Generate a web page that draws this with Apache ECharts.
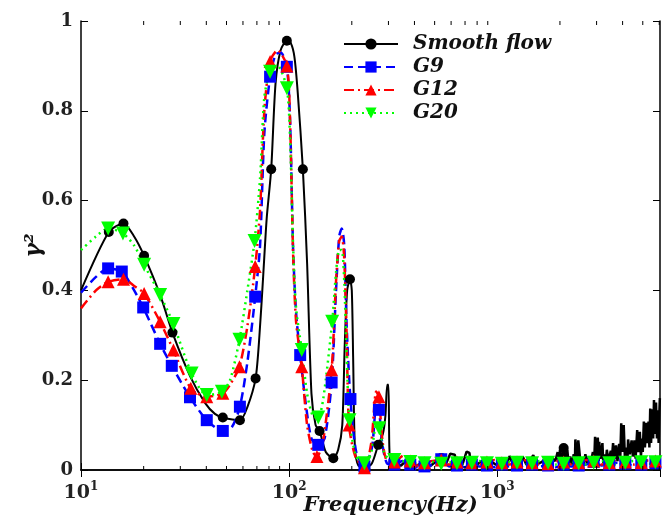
<!DOCTYPE html>
<html><head><meta charset="utf-8">
<script src="https://cdn.jsdelivr.net/npm/echarts@6/dist/echarts.min.js"></script>
<style>html,body{margin:0;padding:0;background:#fff}#c{width:670px;height:518px}</style>
</head><body><div id="c"></div>
<script>
// ---------- data (frequency Hz, gamma^2, marker flag) ----------
const seriesNames = ['Smooth flow', 'G9', 'G12', 'G20'];
const xMin = 10, xMax = 6050;
const yTicks = [0, 0.2, 0.4, 0.6, 0.8, 1];
const minorTickValues = [20,30,40,50,60,70,80,90,200,300,400,500,600,700,800,900,2000,3000,4000,5000,6000];

const smoothFlow = [
  [10,0.40,0],[13.6,0.53,1],[16,0.549,1],[18,0.52,0],[20.1,0.477,1],[24,0.39,0],[27.5,0.306,1],
  [33.5,0.208,0],[39.5,0.149,0],[44,0.125,0],[48,0.117,1],[58,0.111,1],[63,0.14,0],[69,0.204,1],
  [72,0.30,0],[75,0.43,0],[78,0.56,0],[82,0.67,1],[86,0.86,0],[91,0.935,0],[97.5,0.956,1],
  [102,0.95,0],[106,0.92,0],[110,0.84,0],[116.4,0.67,1],[122,0.46,0],[128,0.17,0],[134,0.10,0],
  [140,0.087,1],[150,0.04,0],[163,0.026,1],[172,0.045,0],[180,0.10,0],[185,0.28,0],[190,0.40,0],
  [196,0.425,1],[200,0.40,0],[203,0.25,0],[207,0.05,0],[215,0.01,0],[232,0.004,1],[250,0.015,0],
  [268,0.056,1],[282,0.08,0],[290,0.12,0],[296,0.19,0],[300,0.19,0],[303,0.05,0],[308,0.012,0],[317,0.012,0]
];
const smoothFlowNoise = [
  [317,0.012,0],[345,0.01,0],[360,0.018,0],[382,0.012,0],[410,0.01,0],[430,0.015,0],[447,0.012,0],
  [480,0.01,0],[510,0.02,0],[538,0.027,1],[565,0.012,0],[594,0.036,0],[625,0.034,0],[632,0.012,0],
  [680,0.012,0],[712,0.041,0],[735,0.038,0],[745,0.015,0],[800,0.012,0],[840,0.02,0],[870,0.012,0],
  [930,0.02,0],[980,0.012,0],[1110,0.012,0],[1145,0.031,0],[1170,0.03,0],[1190,0.012,0],[1300,0.014,0],
  [1325,0.03,0],[1350,0.028,0],[1380,0.012,0],[1490,0.033,0],[1515,0.03,0],[1540,0.012,0],[1640,0.018,0],
  [1700,0.026,0],[1740,0.02,0],[1800,0.012,0],[1850,0.025,0],[1900,0.02,0],[1950,0.04,0],[1980,0.015,0],
  [2000,0.045,0],[2030,0.02,0],[2084,0.049,1],[2130,0.02,0],[2170,0.045,0],[2200,0.015,0],[2240,0.03,0],
  [2280,0.012,0],[2330,0.035,0],[2360,0.015,0],[2372,0.068,0],[2420,0.02,0],[2450,0.066,0],[2480,0.066,0],
  [2507,0.02,0],[2550,0.028,0],[2600,0.012,0],[2650,0.035,0],[2700,0.015,0],[2760,0.03,0],[2800,0.012,0],
  [2880,0.04,0],[2920,0.015,0],[2950,0.074,0],[2990,0.02,0],[3040,0.072,0],[3070,0.02,0],[3090,0.063,0],
  [3130,0.025,0],[3200,0.06,0],[3230,0.015,0],[3280,0.035,0],[3320,0.015,0],[3360,0.045,0],[3420,0.02,0],
  [3510,0.043,0],[3540,0.015,0],[3600,0.06,0],[3660,0.025,0],[3720,0.055,0],[3780,0.02,0],[3850,0.058,0],
  [3900,0.03,0],[3940,0.104,0],[3990,0.04,0],[4050,0.10,0],[4100,0.03,0],[4180,0.05,0],[4220,0.02,0],
  [4250,0.068,0],[4330,0.035,0],[4420,0.066,0],[4480,0.03,0],[4560,0.066,0],[4620,0.025,0],[4700,0.089,0],
  [4760,0.04,0],[4840,0.085,0],[4900,0.03,0],[4960,0.07,0],[5000,0.04,0],[5060,0.108,0],[5120,0.05,0],
  [5200,0.105,0],[5260,0.06,0],[5330,0.108,0],[5380,0.05,0],[5430,0.137,0],[5480,0.06,0],[5560,0.135,0],
  [5610,0.07,0],[5660,0.156,0],[5720,0.08,0],[5790,0.15,0],[5850,0.07,0],[5900,0.133,0],[5960,0.06,0],
  [6010,0.13,0],[6040,0.16,0]
];
const g9 = [
  [10,0.395,0],[11.8,0.43,0],[13.5,0.449,1],[15.7,0.442,1],[17.5,0.41,0],[19.9,0.362,1],[24,0.281,1],
  [27.3,0.232,1],[33.4,0.162,1],[40.2,0.111,1],[48,0.087,1],[53,0.095,0],[58,0.141,1],[63,0.24,0],
  [68.7,0.386,1],[72.5,0.50,0],[76,0.75,0],[81,0.876,1],[86,0.925,0],[91,0.93,0],[97.5,0.898,1],
  [101,0.78,0],[104.5,0.49,0],[108,0.35,0],[113,0.256,1],[120,0.15,0],[128,0.07,0],[138,0.056,1],
  [148,0.07,0],[160,0.195,1],[168,0.40,0],[174,0.52,0],[179,0.538,0],[184,0.50,0],[189,0.32,0],
  [197,0.158,1],[210,0.04,0],[230,0.008,1],[250,0.05,0],[262,0.14,0],[270,0.134,1],[280,0.06,0],
  [295,0.015,0],[320,0.012,1],[350,0.02,0],[382,0.012,1],[414,0.006,0],[447,0.008,1],[490,0.012,0],
  [538,0.024,1],[587,0.008,0],[640,0.01,1],[695,0.006,0],[755,0.012,1],[820,0.008,0],[892,0.01,1],
  [968,0.006,0],[1052,0.012,1],[1143,0.008,0],[1244,0.01,1],[1351,0.006,0],[1469,0.012,1],[1605,0.008,0],
  [1754,0.01,1],[1912,0.006,0],[2084,0.012,1],[2265,0.008,0],[2461,0.01,1],[2674,0.012,0],[2905,0.018,1],
  [3167,0.01,0],[3453,0.012,1],[3773,0.016,0],[4122,0.014,1],[4503,0.01,0],[4920,0.012,1],[5350,0.014,0],
  [5750,0.015,1],[6050,0.012,0]
];
const g12 = [
  [10,0.36,0],[11.8,0.40,0],[13.5,0.419,1],[16,0.425,1],[18,0.41,0],[20.1,0.393,1],[24,0.330,1],
  [27.8,0.267,1],[33.7,0.182,1],[40.2,0.163,1],[48,0.171,1],[52,0.19,0],[57.7,0.23,1],[63,0.32,0],
  [68.7,0.453,1],[72.5,0.58,0],[76,0.80,0],[81,0.91,1],[88,0.935,0],[97.5,0.90,1],[101,0.78,0],
  [104.5,0.48,0],[108,0.33,0],[115,0.23,1],[122,0.10,0],[130,0.04,0],[136,0.03,1],[145,0.06,0],
  [160,0.223,1],[168,0.42,0],[174,0.51,0],[179,0.52,0],[184,0.47,0],[189,0.30,0],[194,0.10,1],
  [208,0.03,0],[230,0.005,1],[248,0.06,0],[262,0.175,0],[270,0.163,1],[280,0.07,0],[295,0.02,0],
  [320,0.018,1],[355,0.032,0],[382,0.02,1],[414,0.01,0],[447,0.016,1],[490,0.02,0],[538,0.022,1],
  [587,0.012,0],[640,0.018,1],[695,0.022,0],[755,0.016,1],[820,0.012,0],[892,0.018,1],[968,0.022,0],
  [1052,0.016,1],[1143,0.012,0],[1244,0.018,1],[1351,0.022,0],[1469,0.016,1],[1605,0.012,0],[1754,0.014,1],
  [1912,0.02,0],[2084,0.018,1],[2265,0.012,0],[2461,0.016,1],[2674,0.022,0],[2905,0.02,1],[3167,0.012,0],
  [3453,0.016,1],[3773,0.022,0],[4122,0.018,1],[4503,0.012,0],[4920,0.016,1],[5350,0.022,0],[5750,0.02,1],
  [6050,0.018,0]
];
const g20 = [
  [10,0.49,0],[11.8,0.52,0],[13.5,0.538,1],[15.9,0.527,1],[18,0.50,0],[20.1,0.457,1],[24,0.390,1],
  [27.8,0.325,1],[34,0.215,1],[40.2,0.167,1],[47.5,0.174,1],[52,0.20,0],[57.7,0.29,1],[63,0.40,0],
  [68.2,0.51,1],[72.5,0.65,0],[76,0.83,0],[81,0.887,1],[88,0.90,0],[97.5,0.85,1],[101,0.74,0],
  [104.5,0.50,0],[108,0.36,0],[115,0.267,1],[122,0.17,0],[130,0.12,0],[138,0.117,1],[146,0.16,0],
  [161,0.33,1],[168,0.44,0],[174,0.49,0],[179,0.49,0],[184,0.42,0],[189,0.25,0],[195,0.111,1],
  [210,0.03,0],[230,0.015,1],[248,0.04,0],[262,0.10,0],[271,0.093,1],[285,0.04,0],[300,0.025,0],
  [320,0.022,1],[350,0.02,0],[382,0.018,1],[414,0.014,0],[447,0.015,1],[490,0.018,0],[538,0.014,1],
  [587,0.018,0],[640,0.015,1],[695,0.012,0],[755,0.016,1],[820,0.02,0],[892,0.015,1],[968,0.012,0],
  [1052,0.014,1],[1143,0.018,0],[1244,0.016,1],[1351,0.012,0],[1469,0.015,1],[1605,0.02,0],[1754,0.016,1],
  [1912,0.012,0],[2084,0.014,1],[2265,0.018,0],[2461,0.015,1],[2674,0.012,0],[2905,0.016,1],[3167,0.02,0],
  [3453,0.015,1],[3773,0.012,0],[4122,0.016,1],[4503,0.02,0],[4920,0.017,1],[5350,0.014,0],[5750,0.017,1],
  [6050,0.018,0]
];

// ---------- chart ----------
const SERIF = 'DejaVu Serif';
const chart = echarts.init(document.getElementById('c'), null, {renderer: 'canvas'});
const symSize = s => (v => v[2] ? s : 0);
function lineSeries(name, data, color, symbol, size, dash, width, extra) {
  return Object.assign({
    name, type: 'line', data, smooth: 0.25, symbol, symbolSize: symSize(size),
    showSymbol: true, showAllSymbol: true, clip: true,
    lineStyle: {color, width, type: dash},
    itemStyle: {color, borderWidth: 0},
    emphasis: {disabled: true}, silent: true
  }, extra || {});
}
const labelFmt = v => {
  const e = Math.log10(v);
  const r = Math.round(e);
  if (Math.abs(e - r) > 1e-6) return '';
  return '{b|10}{s|' + r + '}';
};
const axisLineStyle = {color: '#000', width: 1.5};
const option = {
  animation: false,
  backgroundColor: '#fff',
  grid: {left: 81, right: 10, top: 21, bottom: 48, containLabel: false, outerBoundsMode: 'none'},
  legend: {
    data: seriesNames, orient: 'vertical', left: 338, top: 29,
    itemWidth: 54, itemHeight: 14, itemGap: 3,
    textStyle: {fontFamily: SERIF, fontStyle: 'italic', fontWeight: 'bold', fontSize: 20, color: '#111', padding: [0, 0, 0, 10]}
  },
  xAxis: [{
    type: 'log', logBase: 10, min: xMin, max: xMax, position: 'bottom',
    axisLine: {show: true, lineStyle: axisLineStyle},
    axisTick: {show: true, inside: true, length: 7, lineStyle: {color: '#000', width: 1}},
    splitLine: {show: false},
    axisLabel: {
      formatter: labelFmt, margin: 11, showMaxLabel: false,
      rich: {
        b: {fontFamily: SERIF, fontWeight: 'bold', fontSize: 19, color: '#222', lineHeight: 24},
        s: {fontFamily: SERIF, fontWeight: 'bold', fontSize: 12, color: '#222', verticalAlign: 'top'}
      }
    },
    name: 'Frequency(Hz)', nameLocation: 'middle', nameGap: 25, nameMoveOverlap: false,
    nameTextStyle: {fontFamily: SERIF, fontStyle: 'italic', fontWeight: 'bold', fontSize: 21, color: '#111', padding: [0, 0, 0, 40]}
  }, {
    type: 'log', logBase: 10, min: xMin, max: xMax, position: 'top',
    axisLine: {show: true, lineStyle: axisLineStyle},
    axisTick: {show: true, inside: true, length: 7, lineStyle: {color: '#000', width: 1}},
    axisLabel: {show: false}, splitLine: {show: false}
  }],
  yAxis: [{
    type: 'value', min: 0, max: 1, interval: 0.2, position: 'left',
    axisLine: {show: true, lineStyle: axisLineStyle},
    axisTick: {show: true, inside: true, length: 7, lineStyle: {color: '#000', width: 1}},
    splitLine: {show: false},
    axisLabel: {margin: 8, fontFamily: SERIF, fontWeight: 'bold', fontSize: 18, color: '#222',
      formatter: v => yTicks.indexOf(+v.toFixed(2)) >= 0 ? String(+v.toFixed(2)) : ''},
    name: 'γ²', nameLocation: 'middle', nameRotate: 90, nameGap: 36, nameMoveOverlap: false,
    nameTextStyle: {fontFamily: SERIF, fontStyle: 'italic', fontWeight: 'bold', fontSize: 22, color: '#111'}
  }, {
    type: 'value', min: 0, max: 1, interval: 0.2, position: 'right',
    axisLine: {show: true, lineStyle: axisLineStyle},
    axisTick: {show: true, inside: true, length: 7, lineStyle: {color: '#000', width: 1}},
    axisLabel: {show: false}, splitLine: {show: false}
  }],
  series: [
    lineSeries('Smooth flow', smoothFlow, '#000000', 'circle', 10, 'solid', 2),
    lineSeries('Smooth flow', smoothFlowNoise, '#000000', 'circle', 10, 'solid', 2.5, {smooth: false}),
    lineSeries('G9', g9, '#0000ff', 'rect', 12, [9, 5], 2.5),
    lineSeries('G12', g12, '#ff0000', 'triangle', 13, [10, 4, 2, 4], 2.5),
    lineSeries('G20', g20, '#00ff00', 'triangle', 14, [2, 4], 2.5, {symbolRotate: 180}),
    {
      type: 'custom', name: 'minorTicks', silent: true, clip: false, z: 5,
      data: minorTickValues.filter(v => v < xMax).map(v => [v, 0]),
      encode: {x: 0, y: 1},
      renderItem: (params, api) => {
        const f = api.value(0);
        const p0 = api.coord([f, 0]);
        const p1 = api.coord([f, 1]);
        return {type: 'group', children: [
          {type: 'line', shape: {x1: p0[0], y1: p0[1], x2: p0[0], y2: p0[1] - 4}, style: {stroke: '#000', lineWidth: 1}},
          {type: 'line', shape: {x1: p1[0], y1: p1[1], x2: p1[0], y2: p1[1] + 4}, style: {stroke: '#000', lineWidth: 1}}
        ]};
      }
    }
  ]
};
chart.setOption(option);
</script>
</body></html>
